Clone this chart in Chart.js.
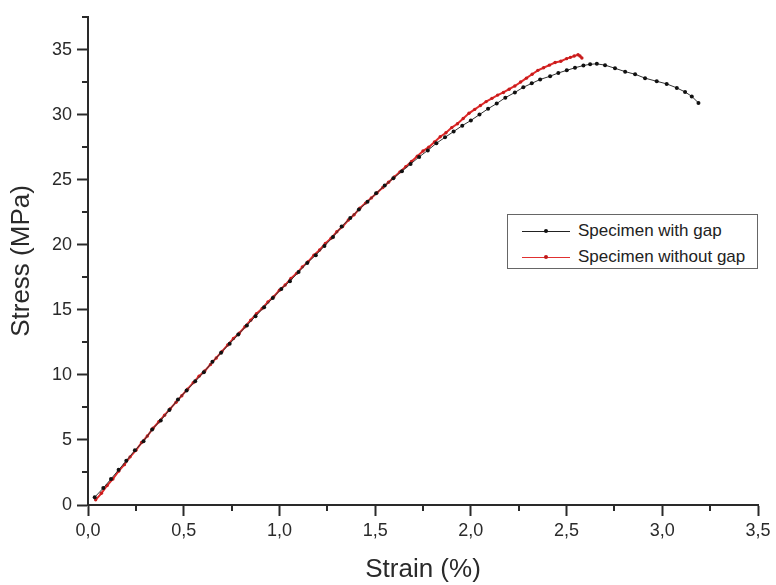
<!DOCTYPE html>
<html>
<head>
<meta charset="utf-8">
<script src="https://cdn.jsdelivr.net/npm/chart.js@4"></script>
<style>
  html, body { margin: 0; padding: 0; background: #fff; }
  #wrap { position: relative; width: 776px; height: 585px; }
  #legend {
    position: absolute; left: 507px; top: 214px; width: 251px; height: 55px;
    border: 1px solid #666; background: #fff; box-sizing: border-box;
    font-family: "Liberation Sans", Arial, sans-serif; font-size: 17px; color: #222;
  }
  .row { position: absolute; left: 0; height: 20px; display: flex; align-items: center; }
  .sample { position: relative; width: 48px; height: 0; margin-left: 14px; margin-right: 8px; }
  .sample .ln { position: absolute; left: 0; right: 0; top: 0; height: 1px; }
  .sample .dot { position: absolute; left: 22px; top: -2px; width: 4px; height: 4px; border-radius: 50%; }
</style>
</head>
<body>
<div id="wrap">
  <canvas id="chart" width="776" height="585"></canvas>
  <div id="legend">
    <div class="row" style="top:6px">
      <div class="sample"><div class="ln" style="background:#222"></div><div class="dot" style="background:#111"></div></div>
      <span>Specimen with gap</span>
    </div>
    <div class="row" style="top:32px">
      <div class="sample"><div class="ln" style="background:#e03030"></div><div class="dot" style="background:#c01818"></div></div>
      <span>Specimen without gap</span>
    </div>
  </div>
</div>
<script>
// specimen with gap (black)
const strainGap = [0.035, 0.08, 0.12, 0.16, 0.20, 0.245, 0.29, 0.335, 0.38, 0.425, 0.47, 0.515,
  0.56, 0.605, 0.65, 0.695, 0.74, 0.785, 0.83, 0.875, 0.92, 0.965, 1.01, 1.055, 1.10, 1.145,
  1.19, 1.235, 1.28, 1.325, 1.37, 1.415, 1.46, 1.505, 1.55, 1.595, 1.64, 1.685, 1.73, 1.775,
  1.82, 1.865, 1.91, 1.955, 2.00, 2.045, 2.09, 2.135, 2.18, 2.23, 2.274, 2.318, 2.362, 2.414,
  2.457, 2.501, 2.544, 2.588, 2.623, 2.658, 2.701, 2.753, 2.806, 2.858, 2.91, 2.971, 3.023,
  3.076, 3.119, 3.154, 3.189];
const stressGap = [0.6, 1.3, 2.0, 2.7, 3.4, 4.2, 4.9, 5.8, 6.5, 7.3, 8.1, 8.8,
  9.5, 10.2, 11.0, 11.7, 12.4, 13.1, 13.8, 14.5, 15.2, 15.9, 16.6, 17.2, 17.9, 18.6,
  19.2, 19.9, 20.6, 21.4, 22.05, 22.7, 23.3, 23.95, 24.55, 25.1, 25.65, 26.2, 26.75, 27.25,
  27.8, 28.25, 28.7, 29.15, 29.55, 30.0, 30.45, 30.85, 31.3, 31.7, 32.1, 32.4, 32.7, 32.95,
  33.2, 33.4, 33.6, 33.77, 33.87, 33.9, 33.8, 33.56, 33.3, 33.1, 32.8, 32.56, 32.36,
  32.05, 31.74, 31.4, 30.9];

// specimen without gap (red)
const strainNoGap = [0.04, 0.07, 0.10, 0.13, 0.16, 0.19, 0.22, 0.25, 0.28, 0.31, 0.34, 0.37,
  0.40, 0.43, 0.46, 0.49, 0.52, 0.55, 0.58, 0.61, 0.64, 0.67, 0.70, 0.73, 0.76, 0.79, 0.82,
  0.85, 0.88, 0.91, 0.94, 0.97, 1.00, 1.03, 1.06, 1.09, 1.12, 1.15, 1.18, 1.21, 1.24, 1.27,
  1.30, 1.33, 1.36, 1.39, 1.42, 1.45, 1.48, 1.51, 1.54, 1.57, 1.60, 1.63, 1.66, 1.69, 1.72,
  1.75, 1.78, 1.81, 1.84, 1.87, 1.90, 1.93, 1.96, 1.99, 2.02, 2.05, 2.08, 2.11, 2.14, 2.17,
  2.20, 2.23, 2.26, 2.29, 2.32, 2.35, 2.38, 2.41, 2.44, 2.47, 2.50, 2.52, 2.54, 2.56, 2.57, 2.58];
const stressNoGap = [0.4, 0.9, 1.5, 2.0, 2.6, 3.1, 3.7, 4.2, 4.8, 5.3, 5.9, 6.4,
  6.9, 7.4, 7.9, 8.4, 8.9, 9.4, 9.9, 10.3, 10.8, 11.3, 11.8, 12.3, 12.8, 13.2, 13.7,
  14.2, 14.7, 15.1, 15.6, 16.0, 16.5, 16.9, 17.4, 17.8, 18.3, 18.7, 19.2, 19.6, 20.1, 20.5,
  21.0, 21.4, 21.9, 22.3, 22.8, 23.2, 23.6, 24.0, 24.4, 24.8, 25.2, 25.6, 26.0, 26.4, 26.8,
  27.2, 27.5, 27.9, 28.3, 28.6, 29.0, 29.3, 29.7, 30.1, 30.4, 30.7, 31.0, 31.25, 31.5, 31.7,
  31.95, 32.2, 32.5, 32.8, 33.1, 33.4, 33.6, 33.8, 34.0, 34.1, 34.3, 34.4, 34.5, 34.6, 34.5, 34.35];

const xMin = 0, xMax = 3.5, xStep = 0.25;
const yMin = 0, yMax = 37.5, yStep = 2.5;

const toPoints = (xs, ys) => xs.map((x, i) => ({ x: x, y: ys[i] }));
const isMajor = (v, major) => Math.abs(v / major - Math.round(v / major)) < 1e-6;

const textColor = "#2a2a2a";
const axisColor = "#2a2a2a";

// short outward marks for the minor ticks
const minorTicks = {
  id: "minorTicks",
  afterDraw(chart) {
    const ctx = chart.ctx;
    const xs = chart.scales.x, ys = chart.scales.y;
    ctx.save();
    ctx.strokeStyle = axisColor;
    ctx.lineWidth = 2;
    xs.ticks.forEach((t) => {
      if (isMajor(t.value, 0.5)) return;
      const px = Math.round(xs.getPixelForValue(t.value));
      ctx.beginPath();
      ctx.moveTo(px, xs.top);
      ctx.lineTo(px, xs.top + 6);
      ctx.stroke();
    });
    ys.ticks.forEach((t) => {
      if (isMajor(t.value, 5)) return;
      const py = Math.round(ys.getPixelForValue(t.value));
      ctx.beginPath();
      ctx.moveTo(ys.right, py);
      ctx.lineTo(ys.right - 6, py);
      ctx.stroke();
    });
    ctx.restore();
  },
};

new Chart(document.getElementById("chart"), {
  type: "line",
  data: {
    datasets: [
      {
        label: "Specimen with gap",
        data: toPoints(strainGap, stressGap),
        borderColor: "#333",
        backgroundColor: "#111",
        borderWidth: 1,
        pointRadius: 2,
        pointBorderWidth: 0,
        pointBackgroundColor: "#111",
        tension: 0,
      },
      {
        label: "Specimen without gap",
        data: toPoints(strainNoGap, stressNoGap),
        borderColor: "#e02a2a",
        backgroundColor: "#c81c1c",
        borderWidth: 2,
        pointRadius: 1.7,
        pointBorderWidth: 0,
        pointBackgroundColor: "#c81c1c",
        tension: 0,
      },
    ],
  },
  options: {
    responsive: false,
    animation: false,
    layout: { padding: { left: 0, right: 18, top: 17, bottom: 0 } },
    plugins: { legend: { display: false }, tooltip: { enabled: false } },
    scales: {
      x: {
        type: "linear",
        min: xMin,
        max: xMax,
        afterFit: (s) => { s.height = 80; },
        ticks: {
          stepSize: xStep,
          autoSkip: false,
          maxRotation: 0,
          padding: 4,
          color: textColor,
          font: { family: "'Liberation Sans', Arial", size: 18 },
          callback: (v) => (isMajor(v, 0.5) ? v.toFixed(1).replace(".", ",") : ""),
        },
        grid: {
          drawOnChartArea: false,
          tickLength: 11,
          tickWidth: 2,
          tickColor: (c) => (isMajor(c.tick.value, 0.5) ? axisColor : "rgba(0,0,0,0)"),
        },
        border: { display: true, color: axisColor, width: 2 },
        title: {
          display: true,
          text: "Strain (%)",
          color: textColor,
          font: { family: "'Liberation Sans', Arial", size: 26 },
          padding: { top: 0, bottom: 0 },
        },
      },
      y: {
        type: "linear",
        min: yMin,
        max: yMax,
        afterFit: (s) => { s.width = 88; },
        ticks: {
          stepSize: yStep,
          autoSkip: false,
          padding: 5,
          color: textColor,
          font: { family: "'Liberation Sans', Arial", size: 18 },
          callback: (v) => (isMajor(v, 5) ? String(v) : ""),
        },
        grid: {
          drawOnChartArea: false,
          tickLength: 11,
          tickWidth: 2,
          tickColor: (c) => (isMajor(c.tick.value, 5) ? axisColor : "rgba(0,0,0,0)"),
        },
        border: { display: true, color: axisColor, width: 2 },
        title: {
          display: true,
          text: "Stress (MPa)",
          color: textColor,
          font: { family: "'Liberation Sans', Arial", size: 26 },
          padding: { top: 6, bottom: 0 },
        },
      },
    },
  },
  plugins: [minorTicks],
});
</script>
</body>
</html>
